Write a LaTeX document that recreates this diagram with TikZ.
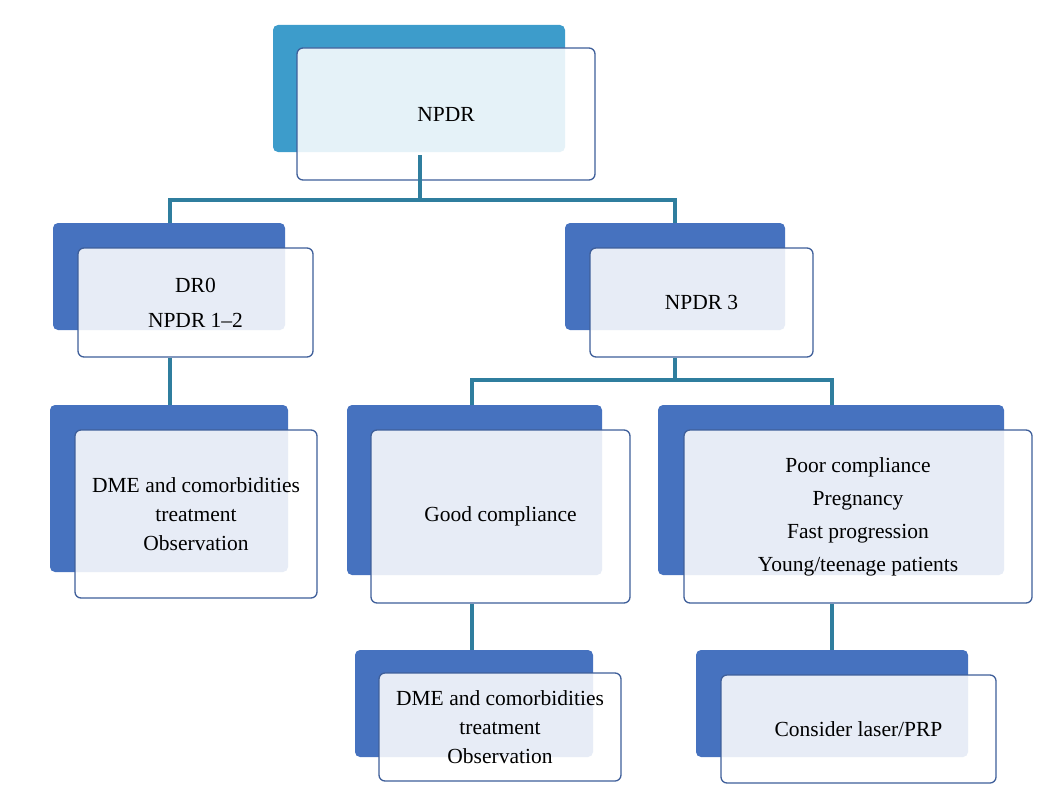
\documentclass[tikz,border=0pt]{standalone}
\usepackage{fontspec}
\setmainfont{Liberation Serif}
\begin{document}
\begin{tikzpicture}[x=1pt,y=-1pt,
  back/.style={draw=none,fill=#1,rounded corners=5pt},
  front/.style={draw=frontb,line width=1.3pt,fill=white,fill opacity=0.87,text opacity=1,rounded corners=6pt},
  txt/.style={align=center,font=\fontsize{21.5}{29}\selectfont,text=black},
  conn/.style={draw=connc,line width=3.5pt}]
\definecolor{teal1}{HTML}{3D9CCB}
\definecolor{darkb}{HTML}{4672BF}
\definecolor{frontb}{HTML}{3F5F9A}
\definecolor{connc}{HTML}{2F7E9E}
\useasboundingbox (0,0) rectangle (1048,800);
% back boxes
\path[back=teal1] (273,25) rectangle (565,152);
\path[back=darkb] (53,223) rectangle (285,330);
\path[back=darkb] (565,223) rectangle (785,330);
\path[back=darkb] (50,405) rectangle (288,572);
\path[back=darkb] (347,405) rectangle (602,575);
\path[back=darkb] (658,405) rectangle (1004,575);
\path[back=darkb] (355,650) rectangle (593,757);
\path[back=darkb] (696,650) rectangle (968,757);
% junction coordinates
\coordinate (j1) at (420,200);
\coordinate (j2) at (675,380);
% front box nodes (text)
\node[front,minimum width=298pt,minimum height=132pt,txt] (npdr) at (446,114) {NPDR};
\node[front,minimum width=235pt,minimum height=109pt,txt,font=\fontsize{21.5}{35}\selectfont] (dr0) at (195.5,302.5) {DR0\\NPDR 1--2};
\node[front,minimum width=223pt,minimum height=109pt,txt] (npdr3) at (701.5,302.5) {NPDR 3};
\node[front,minimum width=242pt,minimum height=168pt,txt] (dme1) at (196,514) {DME and comorbidities\\treatment\\Observation};
\node[front,minimum width=259pt,minimum height=173pt,txt] (good) at (500.5,516.5) {Good compliance};
\node[front,minimum width=348pt,minimum height=173pt,txt,font=\fontsize{21.5}{33}\selectfont] (poor) at (858,516.5) {Poor compliance\\Pregnancy\\Fast progression\\Young/teenage patients};
\node[front,minimum width=242pt,minimum height=108pt,txt] (dme2) at (500,727) {DME and comorbidities\\treatment\\Observation};
\node[front,minimum width=275pt,minimum height=108pt,txt] (laser) at (858.5,729) {Consider laser/PRP};
% connectors
\draw[conn] (420,155) -- (j1);
\draw[conn] (170,223) |- (j1) -| (675,223);
\draw[conn] (dr0.south -| 170,0) -- (170,405);
\draw[conn] (j2 |- npdr3.south) -- (j2);
\draw[conn] (472,405) |- (j2) -| (832,405);
\draw[conn] (good.south -| 472,0) -- (472,650);
\draw[conn] (poor.south -| 832,0) -- (832,650);
\end{tikzpicture}
\end{document}
